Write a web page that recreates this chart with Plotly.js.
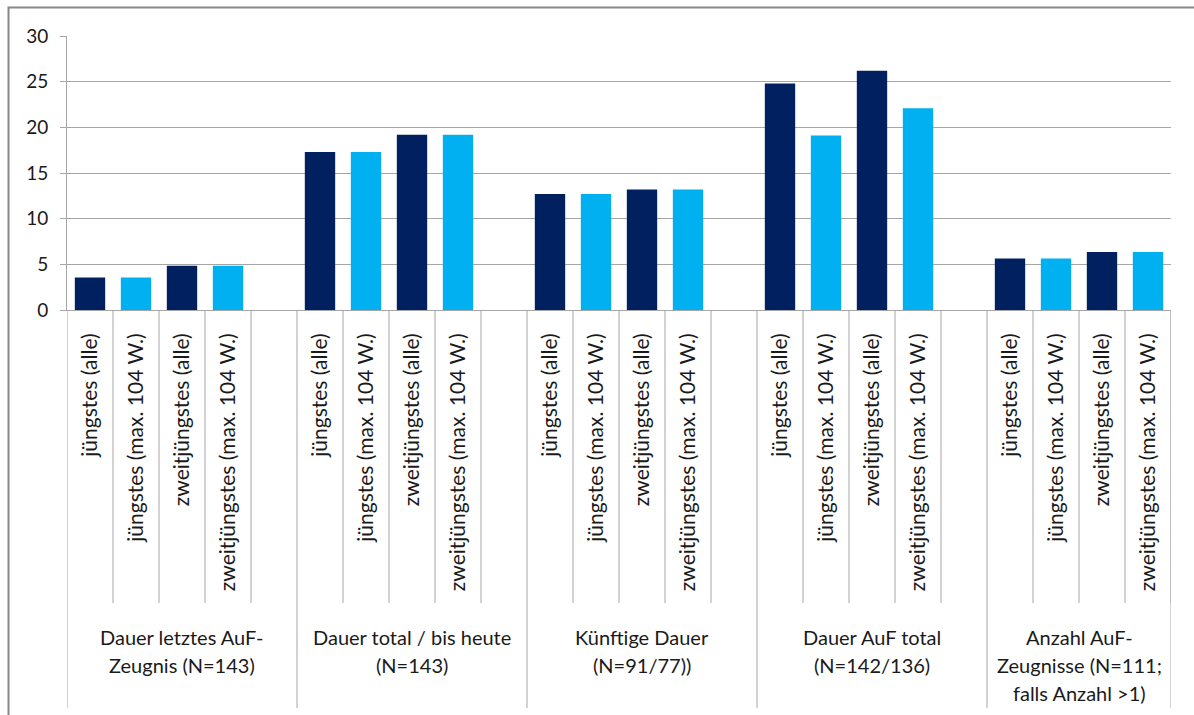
<!DOCTYPE html>
<html>
<head>
<meta charset="utf-8">
<script src="https://cdn.plot.ly/plotly-3.0.1.min.js"></script>
<style>html,body{margin:0;padding:0;background:#fff;}#chart{width:1194px;height:715px;}</style>
</head>
<body>
<div id="chart"></div>
<script>
// ---- data ----
const groupLabels = [
  "Dauer letztes AuF-<br>Zeugnis (N=143)",
  "Dauer total / bis heute<br>(N=143)",
  "Künftige Dauer<br>(N=91/77))",
  "Dauer AuF total<br>(N=142/136)",
  "Anzahl AuF-<br>Zeugnisse (N=111;<br>falls Anzahl >1)"
];
const subLabels = ["jüngstes (alle)", "jüngstes (max. 104 W.)", "zweitjüngstes (alle)", "zweitjüngstes (max. 104 W.)"];
const dauerLetztes   = [3.55, 3.55, 4.85, 4.85];
const dauerTotal     = [17.3, 17.3, 19.2, 19.2];
const kuenftigeDauer = [12.7, 12.7, 13.2, 13.2];
const dauerAuFTotal  = [24.8, 19.1, 26.2, 22.1];
const anzahlAuF      = [5.65, 5.65, 6.35, 6.35];
const groupValues = [dauerLetztes, dauerTotal, kuenftigeDauer, dauerAuFTotal, anzahlAuF];
const yTicks = [0, 5, 10, 15, 20, 25, 30];

// ---- styling ----
const subColors = ["#002060", "#00B0F0", "#002060", "#00B0F0"];
const FONT = "Lato, 'Open Sans', sans-serif";
const TXT = "#1a1a1a";
const GRID = "#a6a6a6";
const slotsPerGroup = 5; // 4 bars + 1 empty slot
const M = {l: 67, r: 23, t: 36, b: 405};
const plotH = 715 - M.t - M.b;
const plotW = 1194 - M.l - M.r;
const pxToPaperY = px => (715 - M.b - px) / plotH;
const pxToPaperX = px => (px - M.l) / plotW;

// ---- build bars ----
const xs = [], ys = [], cols = [], tickVals = [], tickText = [];
groupValues.forEach((vals, g) => {
  vals.forEach((v, i) => {
    const x = g * slotsPerGroup + i;
    xs.push(x); ys.push(v); cols.push(subColors[i]);
    tickVals.push(x); tickText.push(subLabels[i]);
  });
});
const nGroups = groupLabels.length;
const xMax = (nGroups - 1) * slotsPerGroup + subLabels.length - 0.5;

const shapes = [];
const annotations = [];
// short dividers (right edge of every bar slot)
xs.forEach(x => {
  shapes.push({type: "line", xref: "x", yref: "paper", x0: x + 0.5, x1: x + 0.5,
    y0: 0, y1: pxToPaperY(603), line: {color: GRID, width: 1}});
});
// long dividers (group boundaries)
const longX = [];
for (let g = 0; g < nGroups; g++) longX.push(g * slotsPerGroup - 0.5);
longX.push(xMax);
longX.forEach(x => {
  shapes.push({type: "line", xref: "x", yref: "paper", x0: x, x1: x,
    y0: 0, y1: pxToPaperY(708), line: {color: GRID, width: 1}});
});
// group labels, line by line
groupLabels.forEach((lab, g) => {
  const start = g * slotsPerGroup - 0.5;
  const end = Math.min(start + slotsPerGroup, xMax);
  const cx = (start + end) / 2;
  lab.split("<br>").forEach((line, j) => {
    annotations.push({xref: "x", yref: "paper", x: cx, y: pxToPaperY(637 + 28 * j),
      text: line, showarrow: false, xanchor: "center", yanchor: "middle",
      font: {family: FONT, size: 20, color: TXT}});
  });
});
// outer frame
shapes.push({type: "rect", xref: "paper", yref: "paper",
  x0: pxToPaperX(8.5), x1: pxToPaperX(1210), y0: pxToPaperY(7.5), y1: pxToPaperY(730),
  line: {color: "#878787", width: 2}, fillcolor: "rgba(0,0,0,0)", layer: "below"});

const trace = {
  type: "bar", x: xs, y: ys, width: 0.66,
  marker: {color: cols, line: {width: 0}},
  hoverinfo: "y"
};

const layout = {
  width: 1194, height: 715,
  margin: M,
  paper_bgcolor: "#fff", plot_bgcolor: "#fff",
  showlegend: false,
  font: {family: FONT, color: TXT},
  xaxis: {
    range: [-0.5, xMax], tickmode: "array", tickvals: tickVals, ticktext: tickText,
    tickangle: -90, ticks: "", showgrid: false, zeroline: false,
    showline: true, linecolor: GRID, linewidth: 1,
    tickfont: {family: FONT, size: 21, color: TXT}, ticklabelstandoff: 14
  },
  yaxis: {
    range: [0, 30], tickmode: "array", tickvals: yTicks,
    ticks: "outside", ticklen: 6, tickcolor: GRID, tickwidth: 1,
    showline: true, linecolor: GRID, linewidth: 1,
    showgrid: true, gridcolor: GRID, gridwidth: 1, zeroline: false,
    tickfont: {family: FONT, size: 19, color: TXT}, ticklabelstandoff: 8
  },
  shapes: shapes,
  annotations: annotations
};

Plotly.newPlot("chart", [trace], layout, {displayModeBar: false, staticPlot: true});
</script>
</body>
</html>
